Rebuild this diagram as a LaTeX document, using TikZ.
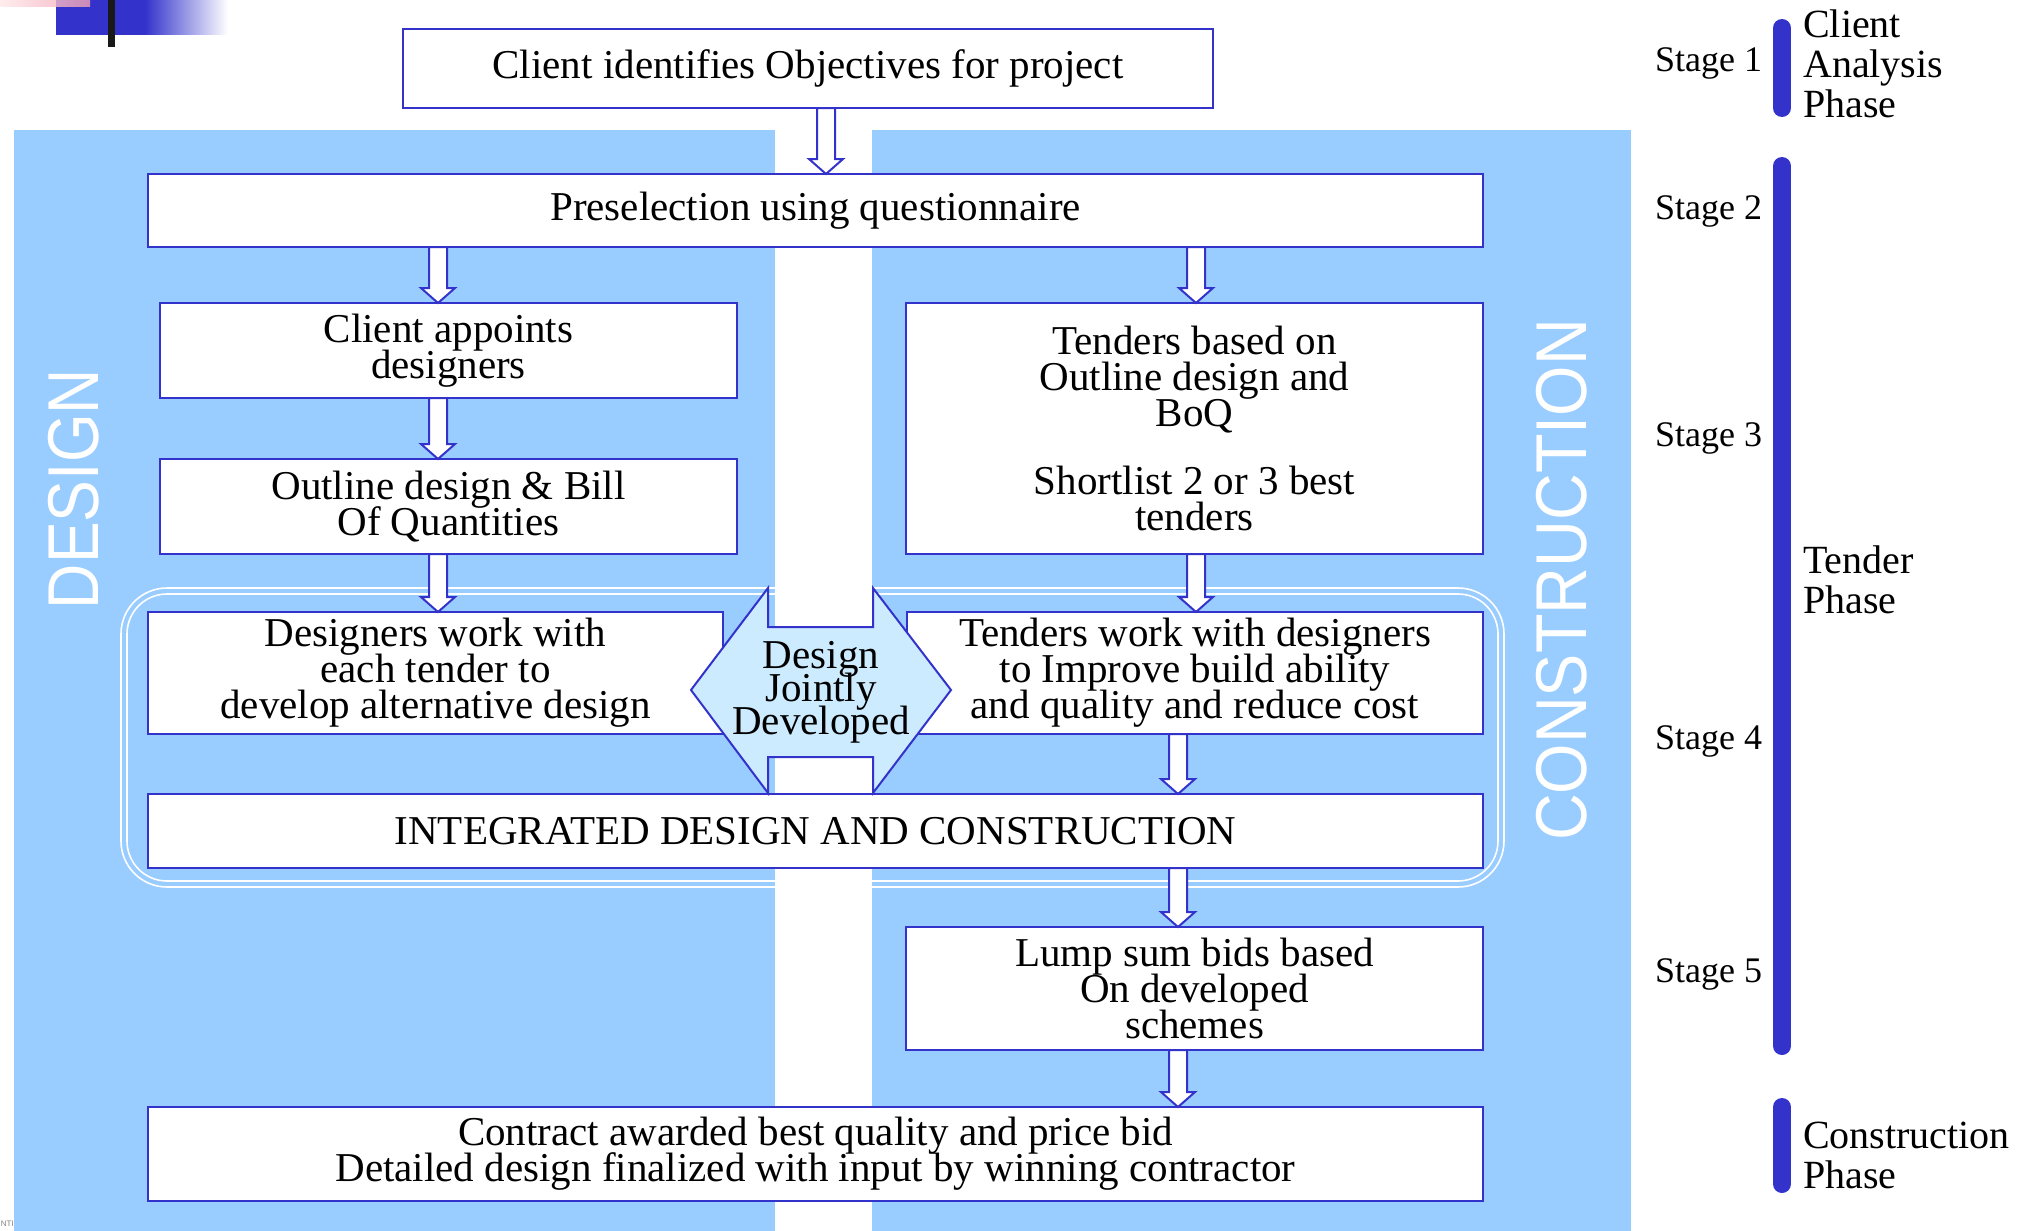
\documentclass[tikz,border=0pt]{standalone}
\usepackage{fontspec}
\setmainfont{Liberation Serif}
\newfontfamily\arialfont{Liberation Sans}
\usetikzlibrary{calc}
\definecolor{dblue}{HTML}{3333CC}
\definecolor{bgblue}{HTML}{99CCFF}
\definecolor{hexfill}{HTML}{CCEBFF}
\definecolor{pinkL}{HTML}{FFE8E8}
\definecolor{pinkR}{HTML}{F2A0B4}
\tikzset{
  box/.style={draw=dblue, line width=2pt, fill=white, inner sep=0pt, outer sep=0pt,
    align=center, font=\fontsize{41}{36}\selectfont},
  barrowstyle/.style={draw=dblue, line width=2pt, fill=white, line join=miter},
  frameline/.style={draw=white, line width=1.6pt},
  vlabel/.style={rotate=90, text=white, inner sep=0pt, font=\arialfont\fontsize{72}{72}\selectfont},
  stagelabel/.style={anchor=base west, inner sep=0pt, font=\fontsize{36}{40}\selectfont},
  phaselabel/.style={anchor=north west, inner sep=0pt, align=left, font=\fontsize{40}{40}\selectfont},
  phasebar/.style={draw=dblue, line width=18pt, line cap=round},
}
\newcommand{\blockarr}[3]{%
  \draw[barrowstyle] let \p1=(#2.south), \p2=(#3.north) in
    (#1pt-9pt,\y1) -- (#1pt-9pt,\y2+15pt) -- (#1pt-17pt,\y2+15pt) -- (#1pt,\y2)
    -- (#1pt+17pt,\y2+15pt) -- (#1pt+9pt,\y2+15pt) -- (#1pt+9pt,\y1) -- cycle;}
\begin{document}
\begin{tikzpicture}[x={(1pt,0)}, y={(0,-1pt)}]
\lineskiplimit=-100pt\relax
\useasboundingbox (0,0) rectangle (2038,1231);
% top-left decoration
\fill[dblue] (56,0) rectangle (146,35);
\shade[left color=dblue, right color=white] (145,0) rectangle (228,35);
\shade[left color=pinkL, right color=pinkR, fill opacity=0.8] (0,0) rectangle (90,7);
\fill[black!90] (108,0) rectangle (115,47);
% backgrounds
\fill[bgblue] (14,130) rectangle (1631,1231);
\fill[white] (775,130) rectangle (872,1231);
% rounded double frame
\draw[frameline, rounded corners=46pt] (121,588) rectangle (1504,887);
\draw[frameline, rounded corners=40pt] (127,594) rectangle (1498,881);
% vertical labels
\node[vlabel] (dlab) at (74,489) {\scalebox{0.87}[1]{DESIGN}};
\node[vlabel] (clab) at (1562,580) {\scalebox{0.9}[1]{CONSTRUCTION}};
% boxes
\node[box, minimum width=810pt, minimum height=79pt] (b1) at (808,68.5) {Client identifies Objectives for project};
\node[box, minimum width=1335pt, minimum height=73pt] (b2) at (815.5,210.5) {Preselection using questionnaire};
\node[box, minimum width=577pt, minimum height=95pt] (b3) at (448.5,350.5) {Client appoints\\designers};
\node[box, minimum width=577pt, minimum height=95pt] (b4) at (448.5,506.5) {Outline design \& Bill\\Of Quantities};
\node[box, minimum width=577pt, minimum height=251pt] (b5) at (1194.5,428.5) {Tenders based on\\Outline design and\\BoQ\\[32pt]Shortlist 2 or 3 best\\tenders};
\node[box, minimum width=575pt, minimum height=122pt] (b6) at (435.5,673) {Designers work with\\each tender to\\develop alternative design};
\node[box, minimum width=576pt, minimum height=122pt] (b7) at (1195,673) {Tenders work with designers\\to Improve build ability\\and quality and reduce cost};
\node[box, minimum width=1335pt, minimum height=74pt] (b8) at (815.5,831) {INTEGRATED DESIGN AND CONSTRUCTION};
\node[box, minimum width=577pt, minimum height=123pt] (b9) at (1194.5,988.5) {Lump sum bids based\\On developed\\schemes};
\node[box, minimum width=1335pt, minimum height=94pt] (b10) at (815.5,1154) {Contract awarded best quality and price bid\\Detailed design finalized with input by winning contractor};
% block arrows
\blockarr{826}{b1}{b2}
\blockarr{438}{b2}{b3}
\blockarr{1196}{b2}{b5}
\blockarr{438}{b3}{b4}
\blockarr{438}{b4}{b6}
\blockarr{1196}{b5}{b7}
\blockarr{1178}{b7}{b8}
\blockarr{1178}{b8}{b9}
\blockarr{1178}{b9}{b10}
% double arrow "Design Jointly Developed"
\draw[draw=dblue, line width=2pt, fill=hexfill, line join=miter]
  (691,690) -- (768,588) -- (768,627) -- (873,627) -- (873,588) -- (951,690)
  -- (873,793) -- (873,757) -- (768,757) -- (768,793) -- cycle;
\node[align=center, inner sep=0pt, font=\fontsize{41}{33}\selectfont] (jd) at (821,692) {Design\\Jointly\\Developed};
% stages
\node[stagelabel] (s1) at (1655,72) {Stage 1};
\node[stagelabel] (s2) at (1655,219) {Stage 2};
\node[stagelabel] (s3) at (1655,446) {Stage 3};
\node[stagelabel] (s4) at (1655,749) {Stage 4};
\node[stagelabel] (s5) at (1655,982) {Stage 5};
% phase bars
\draw[phasebar] (1782,28) -- (1782,108);
\draw[phasebar] (1782,166) -- (1782,1046);
\draw[phasebar] (1782,1107) -- (1782,1184);
% phase labels
\node[phaselabel] (p1) at (1803,10) {Client\\Analysis\\Phase};
\node[phaselabel] (p2) at (1803,546) {Tender\\Phase};
\node[phaselabel] (p3) at (1803,1122) {Construction\\Phase};
% cut-off fragment bottom left
\node[anchor=east, inner sep=0pt, text=gray, font=\arialfont\fontsize{8}{8}\selectfont] (nti) at (14,1224) {NTI};
\end{tikzpicture}
\end{document}
